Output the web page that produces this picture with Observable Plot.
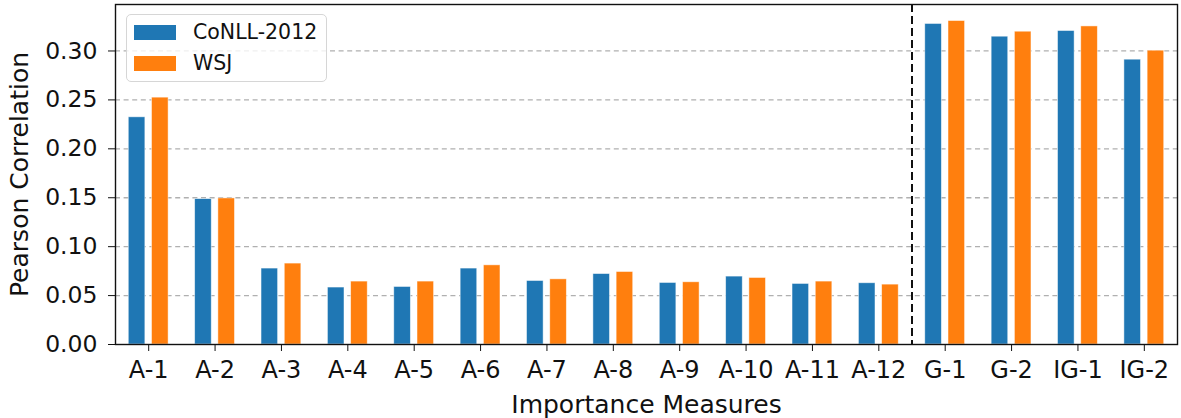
<!DOCTYPE html>
<html><head><meta charset="utf-8">
<script src="https://cdn.jsdelivr.net/npm/d3@7"></script>
<script src="https://cdn.jsdelivr.net/npm/@observablehq/plot@0.6"></script>
<style>
html,body{margin:0;padding:0;background:#fff;}
#wrap{position:relative;width:1181px;height:418px;font-family:"DejaVu Sans",sans-serif;}
#legend{position:absolute;left:126px;top:14px;width:199px;height:66px;border:1.5px solid #d6d6d6;border-radius:5px;background:rgba(255,255,255,0.8);}
#legend .row{position:absolute;left:7px;height:15px;display:flex;align-items:center;}
#legend .sw{width:42px;height:15px;margin-right:17px;}
#legend .lab{font-size:20.5px;color:#111;line-height:15px;white-space:nowrap;}
</style>
</head><body>
<div id="wrap"><div id="chart"></div><div id="legend"></div></div>
<script>
const categories = ["A-1","A-2","A-3","A-4","A-5","A-6","A-7","A-8","A-9","A-10","A-11","A-12","G-1","G-2","IG-1","IG-2"];
const conll = [0.2322,0.1486,0.0776,0.0582,0.0588,0.0776,0.0649,0.0720,0.0629,0.0694,0.0619,0.0626,0.3276,0.3146,0.3204,0.2911];
const wsj   = [0.2523,0.1493,0.0827,0.0643,0.0643,0.0809,0.0666,0.0741,0.0636,0.0680,0.0643,0.0612,0.3306,0.3197,0.3251,0.3003];
const series = ["CoNLL-2012","WSJ"];
const colors = ["#1f77b4","#ff7f0e"];
const yTicks = [0,0.05,0.10,0.15,0.20,0.25,0.30];
const firstGradient = "G-1";

const data = categories.flatMap((c,i)=>[
  {i, s:series[0], k:0, v:conll[i]},
  {i, s:series[1], k:1, v:wsj[i]}
]);
const sep = categories.indexOf(firstGradient) - 0.5;

const chart = Plot.plot({
  width:1181, height:418,
  marginLeft:115, marginRight:4, marginTop:4, marginBottom:74,
  style:{fontFamily:"DejaVu Sans, sans-serif", background:"white", color:"#111"},
  x:{domain:[-0.5, categories.length-0.5]},
  y:{domain:[0,0.3475]},
  color:{domain:series, range:colors},
  marks:[
    Plot.ruleY(yTicks.slice(1), {stroke:"#b0b0b0", strokeWidth:1.3, strokeDasharray:"5,3.6"}),
    Plot.rect(data, {
      x1: d => d.i + (d.k===0 ? -0.3 : 0.05),
      x2: d => d.i + (d.k===0 ? -0.05 : 0.3),
      y1: 0, y2: "v", fill:"s", stroke:"white", strokeWidth:0.8, strokeOpacity:0.6
    }),
    Plot.ruleX([sep], {stroke:"#111", strokeWidth:2, strokeDasharray:"8,4"}),
    Plot.frame({stroke:"#111", strokeWidth:1.4}),
    Plot.axisX({ticks:d3.range(categories.length), tickFormat:i=>categories[i], tickSize:7, tickPadding:9, fontSize:24,
      label:null}),
    Plot.axisX({ticks:[], tickSize:0, fontSize:25,
      label:"Importance Measures", labelAnchor:"center", labelArrow:"none", labelOffset:68}),
    Plot.axisY({ticks:yTicks, tickFormat:d3.format(".2f"), tickSize:7, tickPadding:11, fontSize:23.5,
      label:null}),
    Plot.axisY({ticks:[], tickSize:0, fontSize:25,
      label:"Pearson Correlation", labelAnchor:"center", labelArrow:"none", labelOffset:105})
  ]
});
document.getElementById("chart").appendChild(chart);

const lg = document.getElementById("legend");
series.forEach((s,j)=>{
  const row = document.createElement("div");
  row.className="row"; row.style.top = (j===0 ? 10 : 41) + "px";
  row.innerHTML = `<div class="sw" style="background:${colors[j]}"></div><div class="lab">${s}</div>`;
  lg.appendChild(row);
});
</script>
</body></html>
